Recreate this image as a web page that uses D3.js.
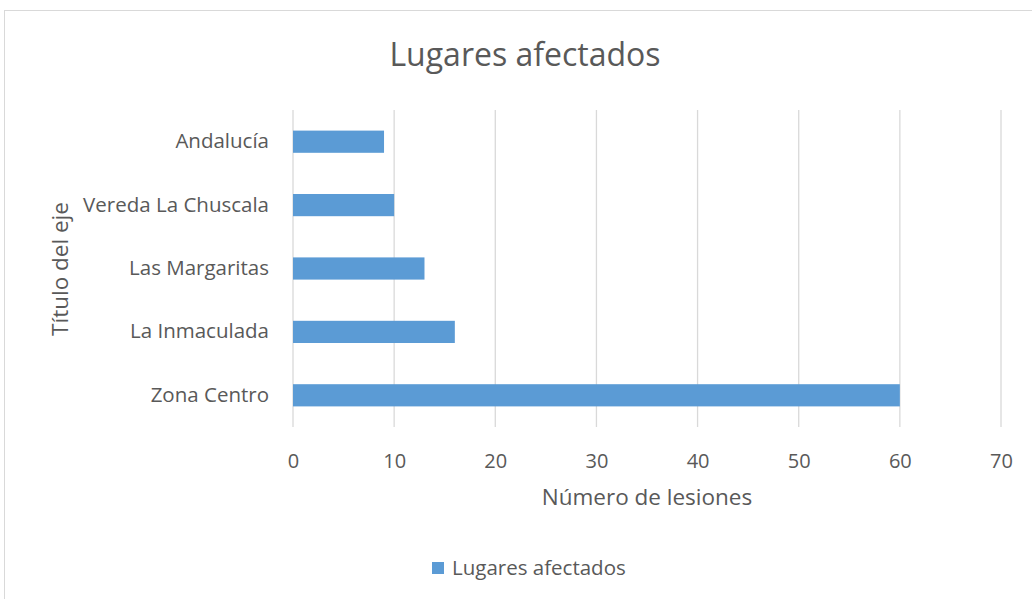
<!DOCTYPE html>
<html>
<head>
<meta charset="utf-8">
<script src="https://d3js.org/d3.v7.min.js"></script>
<style>
  body { margin: 0; background: #fff; }
  text { font-family: "Open Sans", "Liberation Sans", sans-serif; fill: #595959; }
</style>
</head>
<body>
<svg id="chart"></svg>
<script>
// Data
var categories = ["Andalucía", "Vereda La Chuscala", "Las Margaritas", "La Inmaculada", "Zona Centro"];
var values = [9, 10, 13, 16, 60];
var xTicks = [0, 10, 20, 30, 40, 50, 60, 70];
var seriesName = "Lugares afectados";

var svg = d3.select("#chart");
svg.width = 1032;
svg.height = 599;
svg.attr("width", svg.width).attr("height", svg.height);

var barColor = "#5B9BD5",
    gridColor = "#d9d9d9",
    textColor = "#595959";

// chart frame
svg.append("rect")
   .attr("x", 4.5).attr("y", 10.5)
   .attr("width", 1040).attr("height", 600)
   .attr("fill", "#fff")
   .attr("stroke", "#d9d9d9")
   .attr("stroke-width", 1);

var plot = {left: 293, right: 1001, top: 110, bottom: 427};

var x = d3.scaleLinear()
          .domain([0, 70])
          .range([plot.left, plot.right]);
var y = d3.scaleBand()
          .domain(categories)
          .range([plot.top, plot.bottom])
          .paddingInner(0.65)
          .paddingOuter(0.325);

// gridlines
svg.append("g").selectAll(".grid")
   .data(xTicks)
   .enter().append("line")
   .attr("class", "grid")
   .attr("x1", function(d){ return x(d); })
   .attr("x2", function(d){ return x(d); })
   .attr("y1", plot.top)
   .attr("y2", plot.bottom)
   .attr("stroke", gridColor)
   .attr("stroke-width", 1.3);

// bars
svg.append("g").selectAll(".bar")
   .data(values)
   .enter().append("rect")
   .attr("class", "bar")
   .attr("x", x(0))
   .attr("y", function(d, i){ return y(categories[i]); })
   .attr("width", function(d){ return x(d) - x(0); })
   .attr("height", y.bandwidth())
   .attr("fill", barColor);

// x axis
var xAxis = svg.append("g")
   .attr("transform", "translate(0," + (plot.bottom + 34) + ")")
   .call(d3.axisBottom(x).tickValues(xTicks).tickSize(0).tickPadding(0));
xAxis.select(".domain").remove();
xAxis.selectAll("text")
     .attr("dy", "0.35em")
     .style("font-size", "20px")
     .attr("fill", textColor);

// y axis
var yAxis = svg.append("g")
   .attr("transform", "translate(269,0)")
   .call(d3.axisLeft(y).tickSize(0).tickPadding(0));
yAxis.select(".domain").remove();
yAxis.selectAll("text")
     .style("font-size", "20.5px")
     .attr("fill", textColor);

// title
svg.append("text")
   .attr("x", 525).attr("y", 55)
   .attr("text-anchor", "middle")
   .attr("dy", "0.35em")
   .style("font-size", "32px")
   .text(seriesName);

// axis titles
svg.append("text")
   .attr("x", 647).attr("y", 497)
   .attr("text-anchor", "middle")
   .attr("dy", "0.35em")
   .style("font-size", "22.5px")
   .text("Número de lesiones");

svg.append("text")
   .attr("transform", "translate(60,269) rotate(-90)")
   .attr("text-anchor", "middle")
   .attr("dy", "0.35em")
   .style("font-size", "22.5px")
   .text("Título del eje");

// legend
var legend = svg.append("g").attr("transform", "translate(432,568)");
legend.append("rect")
      .attr("x", 0).attr("y", -6)
      .attr("width", 12).attr("height", 12)
      .attr("fill", barColor);
legend.append("text")
      .attr("x", 20).attr("y", 0)
      .attr("dy", "0.35em")
      .style("font-size", "20.5px")
      .text(seriesName);
</script>
</body>
</html>
